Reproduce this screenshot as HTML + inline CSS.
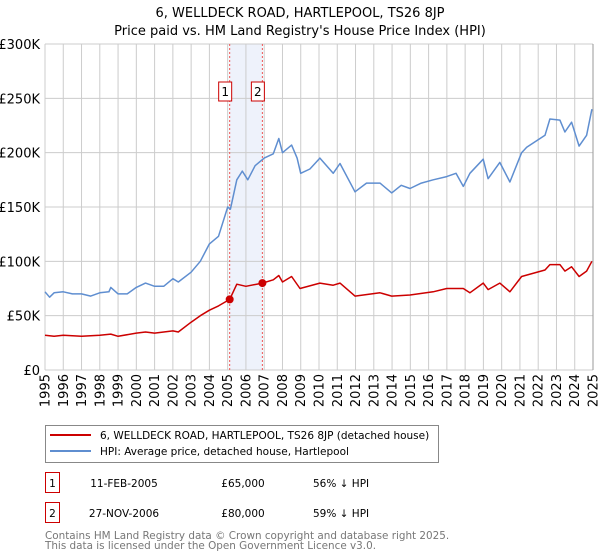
<!DOCTYPE html>
<html><head><meta charset="utf-8"><style>
body{margin:0;background:#fff;font-family:"DejaVu Sans","Liberation Sans",sans-serif;}
#wrap{position:relative;width:600px;height:560px;overflow:hidden;}
svg text{font-family:"DejaVu Sans","Liberation Sans",sans-serif;}
</style></head><body>
<div id="wrap">
<svg id="chart" width="600" height="560"></svg>
</div>
<script>
const hpiYears=[1995,1995.25,1995.5,1996,1996.5,1997,1997.5,1998,1998.5,1998.6,1999,1999.5,2000,2000.5,2001,2001.5,2002,2002.3,2003,2003.5,2004,2004.5,2005,2005.15,2005.5,2005.8,2006.1,2006.5,2007,2007.5,2007.8,2008,2008.5,2008.8,2009,2009.5,2010.05,2010.78,2011.15,2011.97,2012.6,2013.34,2013.98,2014.5,2014.98,2015.6,2016.25,2016.99,2017.5,2017.9,2018.26,2018.99,2019.26,2019.9,2020.45,2021.09,2021.37,2022.37,2022.64,2023.19,2023.46,2023.83,2024.24,2024.65,2024.94];
const hpiValues=[72,67,71,72,70,70,68,71,72,76,70,70,76,80,77,77,84,81,90,100,116,123,150,148,175,183,175,188,195,199,213,200,207,195,181,185,195,181,190,164,172,172,163,170,167,172,175,178,181,169,181,194,176,191,173,200,205,216,231,230,219,228,206,216,240];
const ppYears=[1995,1995.5,1996,1997,1998,1998.6,1999,2000,2000.5,2001,2002,2002.3,2003,2003.5,2004,2004.5,2005.11,2005.5,2006,2006.9,2007.5,2007.8,2008,2008.5,2008.96,2010.05,2010.78,2011.15,2011.97,2013.34,2013.98,2014.98,2016.25,2016.99,2017.9,2018.26,2018.99,2019.26,2019.9,2020.45,2021.09,2022.37,2022.64,2023.19,2023.46,2023.83,2024.24,2024.65,2024.94];
const ppValues=[32,31,32,31,32,33,31,34,35,34,36,35,44,50,55,59,65,79,77,80,83,87,81,86,75,80,78,80,68,71,68,69,72,75,75,71,80,74,80,72,86,92,97,97,91,95,86,91,100];
const saleYears=[2005.11,2006.9];
const saleValues=[65,80];
const saleLabels=["1","2"];
const yTicks=[0,50,100,150,200,250,300];
const yTickLabels=["£0","£50K","£100K","£150K","£200K","£250K","£300K"];
const xTicks=[1995,1996,1997,1998,1999,2000,2001,2002,2003,2004,2005,2006,2007,2008,2009,2010,2011,2012,2013,2014,2015,2016,2017,2018,2019,2020,2021,2022,2023,2024,2025];

const X0=45,X1=593,Y0=370,Y1=44;
const xs=y=>X0+(y-1995)/30*(X1-X0);
const ys=v=>Y0-v/300*(Y0-Y1);
const svg=document.getElementById('chart');
const NS='http://www.w3.org/2000/svg';
function mk(tag,attrs,parent){const e=document.createElementNS(NS,tag);for(const k in attrs)e.setAttribute(k,attrs[k]);(parent||svg).appendChild(e);return e;}

let t=mk('text',{x:300,y:17,'text-anchor':'middle','font-size':13,fill:'#000'});


t.textContent='6, WELLDECK ROAD, HARTLEPOOL, TS26 8JP';
t=mk('text',{x:300,y:35,'text-anchor':'middle','font-size':13,fill:'#000'});


t.textContent="Price paid vs. HM Land Registry's House Price Index (HPI)";

let band=mk('rect',{x:xs(saleYears[0]),y:Y1,width:xs(saleYears[1])-xs(saleYears[0]),height:Y0-Y1,fill:'#eef2fb'});



xTicks.forEach(yr=>{
  const g=mk('line',{x1:xs(yr),x2:xs(yr),y1:Y1,y2:Y0,stroke:'#cccccc','stroke-width':1});
  
  
  const lx=xs(yr)+4.5,ly=Y0+4;
  const l=mk('text',{x:lx,y:ly,'text-anchor':'end','font-size':13,fill:'#000',transform:`rotate(-90 ${lx} ${ly})`});
  
  
  l.textContent=yr;
});
yTicks.forEach((v,i)=>{
  const g=mk('line',{x1:X0,x2:X1,y1:ys(v),y2:ys(v),stroke:'#cccccc','stroke-width':1});
  
  
  const l=mk('text',{x:40,y:ys(v)+5,'text-anchor':'end','font-size':13,fill:'#000'});
  
  
  l.textContent=yTickLabels[i];
});
let ax=mk('line',{x1:X1,x2:X1,y1:Y1,y2:Y0,stroke:'#999','stroke-width':1});



saleYears.forEach((yr,i)=>{
  const l=mk('line',{x1:xs(yr),x2:xs(yr),y1:Y1,y2:Y0,stroke:'#ee5555','stroke-width':1,'stroke-dasharray':'2,2'});
  
  
  const bx=xs(yr)-11;
  const r=mk('rect',{x:bx,y:82,width:13,height:19,fill:'#fff',stroke:'#cc0000','stroke-width':1});
  
  
  const tx=mk('text',{x:bx+6.5,y:96,'text-anchor':'middle','font-size':12,fill:'#000'});
  
  
  tx.textContent=saleLabels[i];
});

function path(xsArr,vs,color,name){
  let d='';xsArr.forEach((yr,i)=>{d+=(i?'L':'M')+xs(yr).toFixed(1)+','+ys(vs[i]).toFixed(1);});
  const p=mk('path',{d:d,fill:'none',stroke:color,'stroke-width':1.5,'stroke-linejoin':'round'});
  
  
}
path(hpiYears,hpiValues,'#5f8ed0','hpi-line');
path(ppYears,ppValues,'#cc0000','price-paid-line');
saleYears.forEach((yr,i)=>{
  const c=mk('circle',{cx:xs(yr),cy:ys(saleValues[i]),r:4,fill:'#cc0000'});
  
  
});

const lg=mk('g',{});


mk('rect',{x:45.5,y:425.5,width:393,height:37,fill:'#fff',stroke:'#888','stroke-width':1},lg);
mk('line',{x1:50,x2:91,y1:435,y2:435,stroke:'#cc0000','stroke-width':2},lg);
mk('line',{x1:50,x2:91,y1:451,y2:451,stroke:'#5f8ed0','stroke-width':2},lg);
let le=mk('text',{x:100,y:439,'font-size':10.5,fill:'#000'},lg);


le.textContent='6, WELLDECK ROAD, HARTLEPOOL, TS26 8JP (detached house)';
le=mk('text',{x:100,y:455,'font-size':10.5,fill:'#000'},lg);


le.textContent='HPI: Average price, detached house, Hartlepool';

const rows=[["1","11-FEB-2005","£65,000","56% ↓ HPI"],["2","27-NOV-2006","£80,000","59% ↓ HPI"]];
rows.forEach((r,i)=>{
  const y=483+i*30;
  const b=mk('rect',{x:45.5,y:y-10.5,width:14,height:20,fill:'#fff',stroke:'#cc0000','stroke-width':1});
  
  
  const cols=[[52.5,'middle'],[124,'middle'],[243,'middle'],[313,'start']];
  r.forEach((s,j)=>{
    const tt=mk('text',{x:cols[j][0],y:y+4,'text-anchor':cols[j][1],'font-size':10.5,fill:'#000'});
    
    
    tt.textContent=s;
  });
});
let f=mk('text',{x:45,y:539,'font-size':10.4,fill:'#777'});


f.textContent='Contains HM Land Registry data © Crown copyright and database right 2025.';
f=mk('text',{x:45,y:549,'font-size':10.4,fill:'#777'});


f.textContent='This data is licensed under the Open Government Licence v3.0.';
</script>
</body></html>
